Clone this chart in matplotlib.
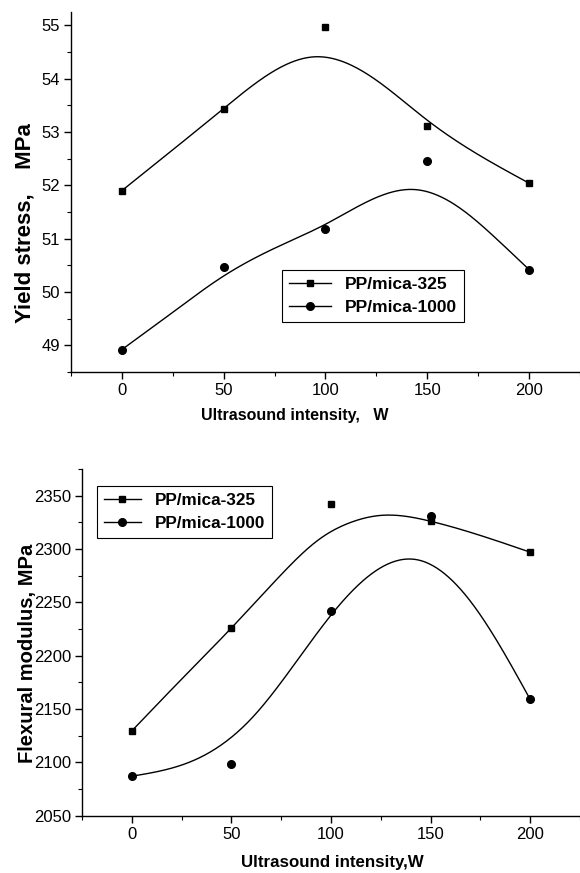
import numpy as np
import matplotlib
matplotlib.use("Agg")
import matplotlib.pyplot as plt

# measured points
power = [0, 50, 100, 150, 200]

yield_325 = [51.90, 53.44, 54.97, 53.11, 52.04]
yield_1000 = [48.92, 50.46, 51.19, 52.45, 50.42]

flex_325 = [2129.5, 2226.4, 2342.2, 2326.5, 2297.2]
flex_1000 = [2087.3, 2098.2, 2242.1, 2330.6, 2159.2]

# fitted curves at a few places
yield_325_fit_x = [0, 50, 95, 125, 150, 200]
yield_325_fit_y = [51.90, 53.44, 54.41, 53.97, 53.22, 52.04]
yield_1000_fit_x = [0, 25, 50, 75, 100, 144, 165, 185, 200]
yield_1000_fit_y = [48.92, 49.62, 50.30, 50.82, 51.27, 51.92, 51.60, 50.96, 50.42]

flex_325_fit_x = [0, 25, 50, 75, 94, 110, 125, 150, 200]
flex_325_fit_y = [2129.5, 2178, 2226, 2276, 2309, 2325, 2331.5, 2326, 2297]
flex_1000_fit_x = [0, 30, 60, 100, 143, 170, 200]
flex_1000_fit_y = [2087, 2101, 2141, 2238, 2290, 2251, 2159]

label_325 = "PP/mica-325"
label_1000 = "PP/mica-1000"


def spline(xs, ys, n=300):
    # natural cubic spline, just to draw the fitted line smoothly
    xs = np.asarray(xs, float)
    ys = np.asarray(ys, float)
    k = len(xs)
    h = np.diff(xs)
    A = np.zeros((k, k))
    b = np.zeros(k)
    A[0, 0] = 1
    A[-1, -1] = 1
    for i in range(1, k - 1):
        A[i, i - 1] = h[i - 1]
        A[i, i] = 2 * (h[i - 1] + h[i])
        A[i, i + 1] = h[i]
        b[i] = 6 * ((ys[i + 1] - ys[i]) / h[i] - (ys[i] - ys[i - 1]) / h[i - 1])
    M = np.linalg.solve(A, b)
    xx = np.linspace(xs[0], xs[-1], n)
    j = np.clip(np.searchsorted(xs, xx) - 1, 0, k - 2)
    t = xx - xs[j]
    hj = h[j]
    a = (M[j + 1] - M[j]) / (6 * hj)
    c = (ys[j + 1] - ys[j]) / hj - hj * (2 * M[j] + M[j + 1]) / 6
    yy = ys[j] + c * t + M[j] / 2 * t ** 2 + a * t ** 3
    return xx, yy


plt.rcParams['font.family'] = ['Liberation Sans', 'DejaVu Sans']

fig = plt.figure(figsize=(5.8, 8.73), dpi=100)
ax1 = fig.add_axes([0.1224, 0.5739, 0.8776, 0.4124])
ax2 = fig.add_axes([0.1414, 0.0656, 0.8586, 0.3972])


def style(ax):
    for s in ['top', 'right']:
        ax.spines[s].set_visible(False)
    for s in ['left', 'bottom']:
        ax.spines[s].set_linewidth(1.0)
    ax.tick_params(which='major', direction='out', length=5, width=1.0, pad=3,
                   labelsize=12)
    ax.tick_params(which='minor', direction='out', length=3, width=0.8)
    ax.set_xlim(-25, 225)
    ax.set_xticks([0, 50, 100, 150, 200])
    ax.set_xticks([-25, 25, 75, 125, 175, 225], minor=True)


def draw(ax, y325, y1000, fx325, fy325, fx1000, fy1000):
    xx, yy = spline(fx325, fy325)
    ax.plot(xx, yy, color='black', lw=1.0)
    xx, yy = spline(fx1000, fy1000)
    ax.plot(xx, yy, color='black', lw=1.0)
    ax.plot(power, y325, 's', color='black', ms=5)
    ax.plot(power, y1000, 'o', color='black', ms=5.5)
    h1, = ax.plot([], [], '-s', color='black', ms=5, lw=1.0, label=label_325)
    h2, = ax.plot([], [], '-o', color='black', ms=5.5, lw=1.0, label=label_1000)
    return [h1, h2]


# top chart: yield stress
handles = draw(ax1, yield_325, yield_1000, yield_325_fit_x, yield_325_fit_y,
               yield_1000_fit_x, yield_1000_fit_y)
ax1.set_ylim(48.5, 55.25)
ax1.set_yticks([49, 50, 51, 52, 53, 54, 55])
ax1.set_yticks(np.arange(48.5, 55.5, 0.5), minor=True)
style(ax1)
ax1.set_ylabel('Yield stress,    MPa', fontsize=16, fontweight='bold')
ax1.yaxis.set_label_coords(-0.07, 0.414)
ax1.set_xlabel('Ultrasound intensity,   W', fontsize=11.5, fontweight='bold')
ax1.xaxis.set_label_coords(0.44, -0.10)
leg = ax1.legend(handles=handles, loc='upper left', bbox_to_anchor=(0.415, 0.283),
                 borderaxespad=0, fancybox=False, edgecolor='black', framealpha=1,
                 prop={'weight': 'bold', 'size': 12.5}, handlelength=2.4,
                 labelspacing=0.45, borderpad=0.4)
leg.get_frame().set_linewidth(0.8)

# bottom chart: flexural modulus
handles = draw(ax2, flex_325, flex_1000, flex_325_fit_x, flex_325_fit_y,
               flex_1000_fit_x, flex_1000_fit_y)
ax2.set_ylim(2050, 2375)
ax2.set_yticks([2050, 2100, 2150, 2200, 2250, 2300, 2350])
ax2.set_yticks(np.arange(2075, 2376, 50), minor=True)
style(ax2)
ax2.set_ylabel('Flexural modulus, MPa', fontsize=14.5, fontweight='bold')
ax2.yaxis.set_label_coords(-0.09, 0.469)
ax2.set_xlabel('Ultrasound intensity,W', fontsize=12.2, fontweight='bold')
ax2.xaxis.set_label_coords(0.503, -0.112)
leg = ax2.legend(handles=handles, loc='upper left', bbox_to_anchor=(0.0295, 0.951),
                 borderaxespad=0, fancybox=False, edgecolor='black', framealpha=1,
                 prop={'weight': 'bold', 'size': 12.3}, handlelength=2.2,
                 labelspacing=0.5, borderpad=0.4)
leg.get_frame().set_linewidth(0.8)

fig.savefig('out.png', dpi=100)
